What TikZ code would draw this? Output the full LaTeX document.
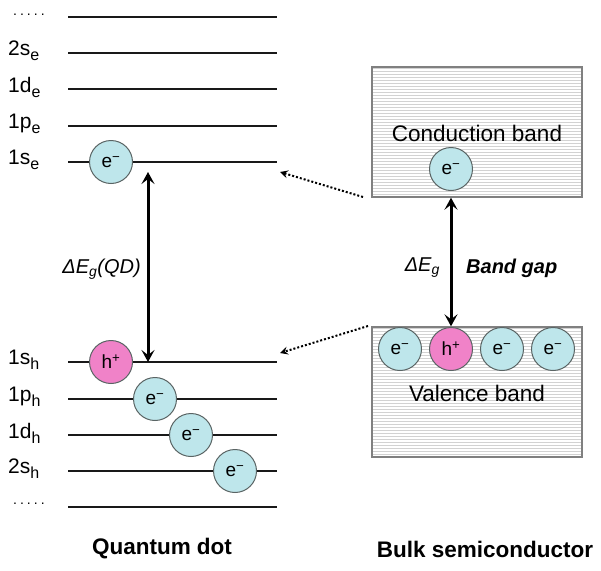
\documentclass[tikz,border=0pt]{standalone}
\usepackage{fontspec}
\setmainfont{Liberation Sans}
\usetikzlibrary{arrows.meta}
\definecolor{ecol}{RGB}{190,230,235}
\definecolor{hcol}{RGB}{240,130,200}
\definecolor{ringcol}{RGB}{90,100,100}
\newcommand{\lvsub}[1]{\raisebox{-5pt}{\fontsize{16}{16}\selectfont #1}}
\newcommand{\lvdots}{.\kern3pt.\kern3pt.\kern3pt.\kern3pt.}
\begin{document}
\begin{tikzpicture}[x=1pt,y=-1pt,
  level/.style={line width=2.5pt,black!90},
  lvlabel/.style={anchor=west,font=\fontsize{21}{22}\selectfont,inner sep=0pt},
  dotlabel/.style={anchor=base west,font=\fontsize{14}{14}\selectfont,inner sep=0pt},
  particle/.style={circle,draw=ringcol,line width=1pt,minimum size=43pt,inner sep=0pt,font=\fontsize{19}{20}\selectfont},
  elec/.style={particle,fill=ecol},
  hole/.style={particle,fill=hcol},
  bandtxt/.style={font=\fontsize{22.5}{24}\selectfont},
  gaparrow/.style={line width=3pt,{Stealth[length=12pt,width=13pt,inset=5pt]}-{Stealth[length=12pt,width=13pt,inset=5pt]}},
  dotarrow/.style={line width=2pt,dash pattern=on 2pt off 2pt,-{Stealth[length=8pt,width=8pt,inset=3pt]}},
  boxborder/.style={draw=gray,line width=1.4pt},
  titletxt/.style={font=\bfseries\fontsize{22.5}{24}\selectfont}
]
\useasboundingbox (0,0) rectangle (601,570);
% levels
\foreach \n/\y in {te/17,se2/53,de1/89,pe1/126,se1/162,sh1/362,ph1/399,dh1/435,sh2/471,bh/507}{
  \coordinate (\n-l) at (68,\y);
  \coordinate (\n-r) at (277,\y);
  \draw[level] (\n-l) -- (\n-r);
}
% labels
\node[dotlabel] (ldt) at (13,15) {\lvdots};
\node[lvlabel] (l2se) at (8,51) {2s\lvsub{e}};
\node[lvlabel] (l1de) at (8,87) {1d\lvsub{e}};
\node[lvlabel] (l1pe) at (8,124) {1p\lvsub{e}};
\node[lvlabel] (l1se) at (8,160) {1s\lvsub{e}};
\node[lvlabel] (l1sh) at (8,360) {1s\lvsub{h}};
\node[lvlabel] (l1ph) at (8,397) {1p\lvsub{h}};
\node[lvlabel] (l1dh) at (8,433) {1d\lvsub{h}};
\node[lvlabel] (l2sh) at (8,469) {2s\lvsub{h}};
\node[dotlabel] (ldb) at (13,504) {\lvdots};
% particles QD
\node[elec] (qe1) at (111,162) {e\textsuperscript{−}};
\node[hole] (qh1) at (111,362) {h\textsuperscript{+}};
\node[elec] (qe2) at (155,399) {e\textsuperscript{−}};
\node[elec] (qe3) at (191,435) {e\textsuperscript{−}};
\node[elec] (qe4) at (235,471) {e\textsuperscript{−}};
% QD gap arrow
\coordinate (qtop) at (148,172);
\coordinate (qbot) at (148,362);
\draw[gaparrow] (qtop) -- (qbot);
\node[font=\itshape\fontsize{20}{22}\selectfont,anchor=east,inner sep=0pt] (qlab) at (141,269) {ΔE\textsubscript{g}(QD)};
% bulk boxes
\begin{scope}
\clip (372,67) rectangle (582,197);
\foreach \yy in {68,71,...,197} \draw[gray!35,line width=0.6pt] (372,\yy) -- (582,\yy);
\end{scope}
\begin{scope}
\clip (372,327) rectangle (582,457);
\foreach \yy in {328,331,...,457} \draw[gray!35,line width=0.6pt] (372,\yy) -- (582,\yy);
\end{scope}
\node[boxborder,minimum width=210pt,minimum height=130pt,inner sep=0pt] (cb) at (477,132) {};
\node[boxborder,minimum width=210pt,minimum height=130pt,inner sep=0pt] (vb) at (477,392) {};
\node[bandtxt] (cbt) at (477,133) {Conduction band};
\node[bandtxt] (vbt) at (477,393) {Valence band};
\node[elec] (be0) at (451,169) {e\textsuperscript{−}};
\node[elec] (be1) at (400,349) {e\textsuperscript{−}};
\node[hole] (bh1) at (451,349) {h\textsuperscript{+}};
\node[elec] (be2) at (502,349) {e\textsuperscript{−}};
\node[elec] (be3) at (553,349) {e\textsuperscript{−}};
\draw[gaparrow] (cb.south -| be0) -- (vb.north -| bh1);
\node[font=\itshape\fontsize{20}{22}\selectfont,anchor=east,inner sep=0pt] (blab) at (440,268) {ΔE\textsubscript{g}};
\node[font=\bfseries\itshape\fontsize{20}{22}\selectfont,anchor=west,inner sep=0pt] (bgap) at (466,268) {Band gap};
% dotted arrows
\coordinate (d1s) at (363,197);
\coordinate (d1e) at (280,172);
\coordinate (d2s) at (368,326);
\coordinate (d2e) at (280,353);
\draw[dotarrow] (d1s) -- (d1e);
\draw[dotarrow] (d2s) -- (d2e);
% titles
\node[titletxt] (t1) at (162,549) {Quantum dot};
\node[titletxt] (t2) at (485,549) {Bulk semiconductor};
\end{tikzpicture}
\end{document}
